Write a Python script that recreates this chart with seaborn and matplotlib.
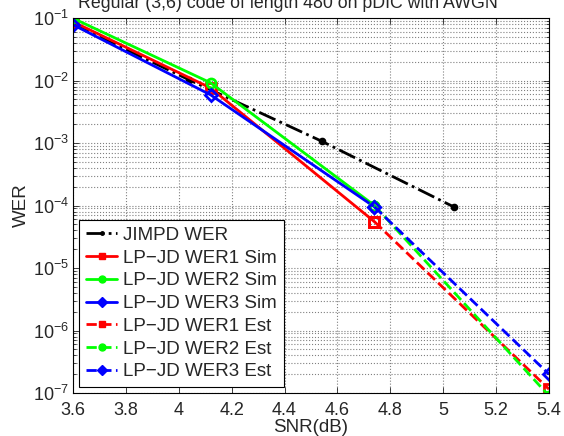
import numpy as np
import pandas as pd
import matplotlib
matplotlib.use("Agg")
import matplotlib.pyplot as plt
import seaborn as sns

# data
snr_jimpd = [3.6, 4.04, 4.54, 5.04]
wer_jimpd = [8.0e-2, 1.02e-2, 1.07e-3, 9.5e-5]

snr_sim = [3.6, 4.12, 4.74]
wer1_sim = [8.7e-2, 7.6e-3, 5.5e-5]
wer2_sim = [9.9e-2, 9.2e-3, 1.0e-4]
wer3_sim = [7.8e-2, 5.9e-3, 9.5e-5]

snr_est = [4.74, 5.4]
wer1_est = [5.5e-5, 1.15e-7]
wer2_est = [1.0e-4, 9.0e-8]
wer3_est = [9.5e-5, 2.0e-7]

xticks = [3.6, 3.8, 4.0, 4.2, 4.4, 4.6, 4.8, 5.0, 5.2, 5.4]
xticklabels = ["3.6", "3.8", "4", "4.2", "4.4", "4.6", "4.8", "5", "5.2", "5.4"]

sns.set_style("ticks")
plt.rcParams["font.family"] = ["Liberation Sans", "DejaVu Sans"]
plt.rcParams["mathtext.fontset"] = "custom"
plt.rcParams["mathtext.rm"] = "Liberation Sans"
plt.rcParams["mathtext.it"] = "Liberation Sans"
plt.rcParams["mathtext.default"] = "regular"

fig = plt.figure(figsize=(5.64, 4.36), dpi=100)
ax = fig.add_axes([73 / 564, 1 - 393 / 436, 476 / 564, 375 / 436])

series = [
    ("JIMPD WER", snr_jimpd, wer_jimpd, "black", "-.", "."),
    ("LP\u2212JD WER1 Sim", snr_sim, wer1_sim, "#ff0000", "-", "s"),
    ("LP\u2212JD WER2 Sim", snr_sim, wer2_sim, "#00ff00", "-", "o"),
    ("LP\u2212JD WER3 Sim", snr_sim, wer3_sim, "#0000ff", "-", "D"),
    ("LP\u2212JD WER1 Est", snr_est, wer1_est, "#ff0000", "--", "s"),
    ("LP\u2212JD WER2 Est", snr_est, wer2_est, "#00ff00", "--", "o"),
    ("LP\u2212JD WER3 Est", snr_est, wer3_est, "#0000ff", "--", "D"),
]

for label, xs, ys, color, ls, mk in series:
    sns.lineplot(
        x=xs, y=ys, ax=ax, color=color, linestyle=ls, marker=mk,
        markersize=7 if mk == "." else 6.5, markeredgewidth=2,
        markerfacecolor=color if mk == "." else "none",
        markeredgecolor=color, linewidth=2, label=label, sort=False,
    )

ax.set_yscale("log")
ax.set_xlim(3.6, 5.4)
ax.set_ylim(1e-7, 1e-1)
ax.set_xticks(xticks)
ax.set_xticklabels(xticklabels)
ax.set_yticks([1e-7, 1e-6, 1e-5, 1e-4, 1e-3, 1e-2, 1e-1])
ax.tick_params(which="both", direction="in", top=True, right=True, labelsize=13)
ax.tick_params(which="major", length=4, width=0.6)
ax.tick_params(which="minor", length=2, width=0.6)
ax.tick_params(axis="x", pad=6.5)
ax.tick_params(axis="y", pad=3)
ax.grid(True, which="major", linestyle=":", color="#808080", linewidth=0.8)
ax.grid(True, which="minor", axis="y", linestyle=":", color="#808080", linewidth=0.8)
for sp in ax.spines.values():
    sp.set_color("black")
    sp.set_linewidth(0.8)

ax.set_xlabel("SNR(dB)", fontsize=13.5, labelpad=0)
ax.set_ylabel("WER", fontsize=13.5, labelpad=2)

leg = ax.legend(loc="lower left", fontsize=13.5, frameon=True, fancybox=False,
                edgecolor="black", framealpha=1, borderaxespad=0.32,
                handlelength=1.7, labelspacing=0.3, borderpad=0.35,
                handletextpad=0.3)
leg.get_frame().set_linewidth(0.8)
for h in leg.legend_handles:
    h.set_markerfacecolor(h.get_color())
    h.set_markersize(5)
    h.set_markeredgewidth(1)

fig.text(0.51, 1 - 7.5 / 436, "Regular (3,6) code of length 480 on pDIC with AWGN",
         ha="center", va="baseline", fontsize=12.8)

fig.savefig("out.png", dpi=100)
